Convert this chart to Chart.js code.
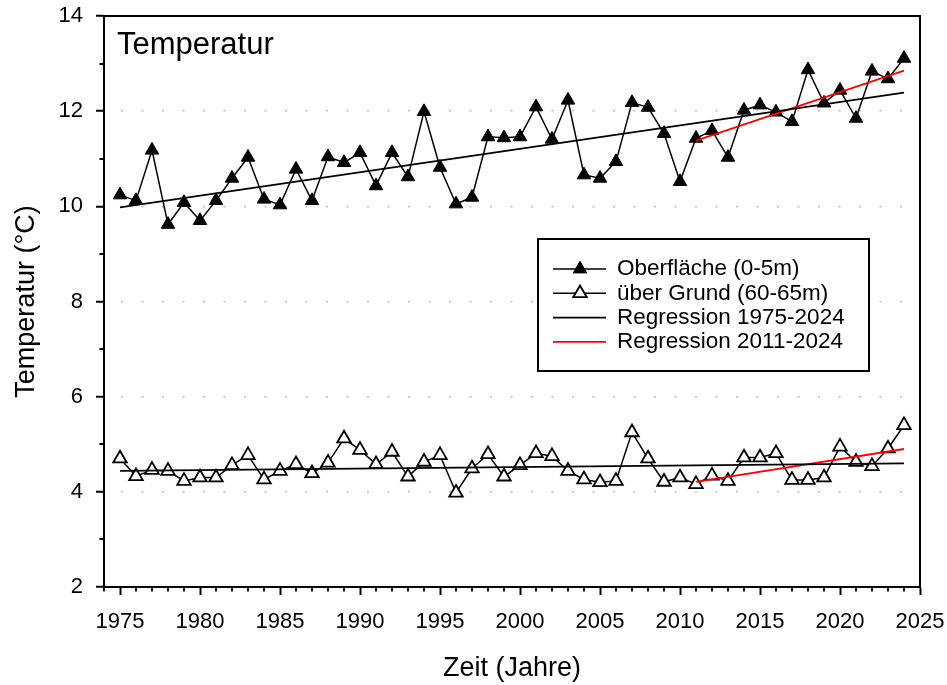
<!DOCTYPE html>
<html>
<head>
<meta charset="utf-8">
<script src="https://cdn.jsdelivr.net/npm/chart.js@4.4.0/dist/chart.umd.min.js"></script>
<style>
    html, body { margin: 0; padding: 0; background: #fff; }
    #wrap { width: 947px; height: 685px; }
</style>
</head>
<body>
<div id="wrap"><canvas id="chart" width="947" height="685"></canvas></div>
<script>
// Jahresmittel Temperatur, Oberfläche und über Grund
const years = [1975, 1976, 1977, 1978, 1979, 1980, 1981, 1982, 1983, 1984,
               1985, 1986, 1987, 1988, 1989, 1990, 1991, 1992, 1993, 1994,
               1995, 1996, 1997, 1998, 1999, 2000, 2001, 2002, 2003, 2004,
               2005, 2006, 2007, 2008, 2009, 2010, 2011, 2012, 2013, 2014,
               2015, 2016, 2017, 2018, 2019, 2020, 2021, 2022, 2023, 2024];

const surface = [10.24, 10.12, 11.18, 9.62, 10.08, 9.70, 10.12, 10.59, 11.03, 10.15,
                 10.03, 10.78, 10.12, 11.04, 10.92, 11.13, 10.43, 11.13, 10.62, 11.99,
                 10.82, 10.05, 10.19, 11.46, 11.44, 11.46, 12.09, 11.41, 12.23, 10.66,
                 10.59, 10.94, 12.18, 12.08, 11.53, 10.52, 11.43, 11.59, 11.03, 12.02,
                 12.13, 11.98, 11.78, 12.87, 12.17, 12.44, 11.85, 12.84, 12.68, 13.11];

const bottom = [4.70, 4.33, 4.46, 4.44, 4.23, 4.30, 4.30, 4.56, 4.77, 4.26,
                4.44, 4.58, 4.39, 4.61, 5.12, 4.88, 4.58, 4.84, 4.32, 4.63,
                4.77, 3.98, 4.49, 4.79, 4.32, 4.56, 4.81, 4.75, 4.44, 4.26,
                4.20, 4.23, 5.25, 4.70, 4.21, 4.30, 4.16, 4.34, 4.23, 4.72,
                4.72, 4.81, 4.25, 4.25, 4.30, 4.95, 4.63, 4.54, 4.91, 5.40];

// Regressionsgeraden (Endpunkte)
const regAllYears = [1975, 2024];
const regAllSurface = [9.98, 12.39];
const regAllBottom = [4.44, 4.60];
const regRecentYears = [2011, 2024];
const regRecentSurface = [11.38, 12.85];
const regRecentBottom = [4.21, 4.90];

const xTicks = [1975, 1980, 1985, 1990, 1995, 2000, 2005, 2010, 2015, 2020, 2025];
const yTicks = [2, 4, 6, 8, 10, 12, 14];

const FONT = '"Liberation Sans", Arial, sans-serif';

function toXY(xs, ys) {
    return xs.map((x, i) => ({ x: x, y: ys[i] }));
}

// Achsen ohne Extra-Rand, damit die Plotfläche fest bleibt
function noPadding(scale) {
    scale.paddingTop = 0;
    scale.paddingBottom = 0;
    scale.paddingLeft = 0;
    scale.paddingRight = 0;
}

// kleine Zwischenstriche, Rahmen, Titel und Legende
const extras = {
    id: 'extras',
    afterDraw(chart) {
        const ctx = chart.ctx;
        const area = chart.chartArea;
        const sx = chart.scales.x;
        const sy = chart.scales.y;
        ctx.save();

        // minor ticks
        ctx.strokeStyle = '#000';
        ctx.lineWidth = 1.8;
        ctx.beginPath();
        for (let yr = Math.ceil(sx.min); yr < sx.max; yr++) {
            if (yr % 5 === 0) continue;
            const px = Math.round(sx.getPixelForValue(yr));
            ctx.moveTo(px, area.bottom);
            ctx.lineTo(px, area.bottom + 4.5);
        }
        for (let v = sy.min + 1; v < sy.max; v += 2) {
            const py = Math.round(sy.getPixelForValue(v));
            ctx.moveTo(area.left - 4.5, py);
            ctx.lineTo(area.left, py);
        }
        ctx.stroke();

        // Rahmen oben und rechts
        ctx.lineWidth = 2;
        ctx.beginPath();
        ctx.moveTo(area.left, area.top);
        ctx.lineTo(area.right, area.top);
        ctx.lineTo(area.right, area.bottom);
        ctx.stroke();

        // Titel im Diagramm
        ctx.fillStyle = '#000';
        ctx.font = '31px ' + FONT;
        ctx.textBaseline = 'alphabetic';
        ctx.textAlign = 'left';
        ctx.fillText('Temperatur', area.left + 13, area.top + 38);

        // Legende
        const box = { x: 538, y: 239, w: 331, h: 132 };
        ctx.fillStyle = '#fff';
        ctx.fillRect(box.x, box.y, box.w, box.h);
        ctx.lineWidth = 2;
        ctx.strokeStyle = '#000';
        ctx.strokeRect(box.x, box.y, box.w, box.h);

        const entries = chart.data.datasets.filter(d => d.label);
        ctx.font = '22.5px ' + FONT;
        ctx.textBaseline = 'middle';
        entries.forEach((ds, i) => {
            const rowY = box.y + 30 + i * 24.3;
            ctx.strokeStyle = ds.borderColor;
            ctx.lineWidth = ds.borderWidth;
            ctx.beginPath();
            ctx.moveTo(box.x + 15, rowY);
            ctx.lineTo(box.x + 68, rowY);
            ctx.stroke();
            if (ds.pointRadius > 0) {
                ctx.fillStyle = ds.pointBackgroundColor;
                ctx.strokeStyle = ds.pointBorderColor;
                ctx.lineWidth = ds.pointBorderWidth;
                Chart.helpers.drawPoint(ctx, {
                    pointStyle: ds.pointStyle,
                    radius: ds.pointRadius,
                    rotation: 0,
                    borderWidth: ds.pointBorderWidth
                }, box.x + 42, rowY);
            }
            ctx.fillStyle = '#000';
            ctx.fillText(ds.label, box.x + 79, rowY);
        });

        ctx.restore();
    }
};

const ctx = document.getElementById('chart').getContext('2d');

new Chart(ctx, {
    type: 'line',
    data: {
        datasets: [
            {
                label: 'Oberfläche (0-5m)',
                data: toXY(years, surface),
                borderColor: '#000',
                borderWidth: 1.5,
                pointStyle: 'triangle',
                pointRadius: 7.8,
                pointBackgroundColor: '#000',
                pointBorderColor: '#000',
                pointBorderWidth: 1,
                order: 1
            },
            {
                label: 'über Grund (60-65m)',
                data: toXY(years, bottom),
                borderColor: '#000',
                borderWidth: 1.5,
                pointStyle: 'triangle',
                pointRadius: 7.8,
                pointBackgroundColor: '#fff',
                pointBorderColor: '#000',
                pointBorderWidth: 1.8,
                order: 1
            },
            {
                label: 'Regression 1975-2024',
                data: toXY(regAllYears, regAllSurface),
                borderColor: '#000',
                borderWidth: 1.8,
                pointRadius: 0,
                order: 0
            },
            {
                label: 'Regression 2011-2024',
                data: toXY(regRecentYears, regRecentSurface),
                borderColor: '#ff0000',
                borderWidth: 1.8,
                pointRadius: 0,
                order: 0
            },
            {
                label: '',
                data: toXY(regAllYears, regAllBottom),
                borderColor: '#000',
                borderWidth: 1.8,
                pointRadius: 0,
                order: 0
            },
            {
                label: '',
                data: toXY(regRecentYears, regRecentBottom),
                borderColor: '#ff0000',
                borderWidth: 1.8,
                pointRadius: 0,
                order: 0
            }
        ]
    },
    options: {
        responsive: false,
        animation: false,
        devicePixelRatio: 1,
        layout: { padding: { left: 0, top: 16, right: 27, bottom: 0 } },
        plugins: {
            legend: { display: false },
            tooltip: { enabled: false }
        },
        scales: {
            x: {
                type: 'linear',
                min: 1974,
                max: 2025,
                afterFit(scale) { scale.height = 98; noPadding(scale); },
                afterBuildTicks(scale) { scale.ticks = xTicks.map(v => ({ value: v })); },
                border: { color: '#000', width: 2 },
                grid: {
                    drawOnChartArea: false,
                    tickLength: 8,
                    tickWidth: 2,
                    tickColor: '#000'
                },
                ticks: {
                    color: '#000',
                    padding: 14,
                    maxRotation: 0,
                    font: { family: FONT, size: 22 },
                    callback: v => String(v)
                },
                title: {
                    display: true,
                    text: 'Zeit (Jahre)',
                    color: '#000',
                    font: { family: FONT, size: 27 },
                    padding: { top: 0, bottom: 0 }
                }
            },
            y: {
                min: 2,
                max: 14,
                afterFit(scale) { scale.width = 104; noPadding(scale); },
                afterBuildTicks(scale) { scale.ticks = yTicks.map(v => ({ value: v })); },
                border: { color: '#000', width: 2, dash: [2, 18.5], dashOffset: 4.5 },
                grid: {
                    color: '#bdbdbd',
                    lineWidth: 1.5,
                    tickLength: 8,
                    tickWidth: 2,
                    tickColor: '#000',
                    tickBorderDash: [100, 0]
                },
                ticks: {
                    color: '#000',
                    padding: 13,
                    font: { family: FONT, size: 22 },
                    callback: v => String(v)
                },
                title: {
                    display: true,
                    text: 'Temperatur (°C)',
                    color: '#000',
                    font: { family: FONT, size: 27 },
                    padding: { top: 10, bottom: 0 }
                }
            }
        }
    },
    plugins: [extras]
});
</script>
</body>
</html>
